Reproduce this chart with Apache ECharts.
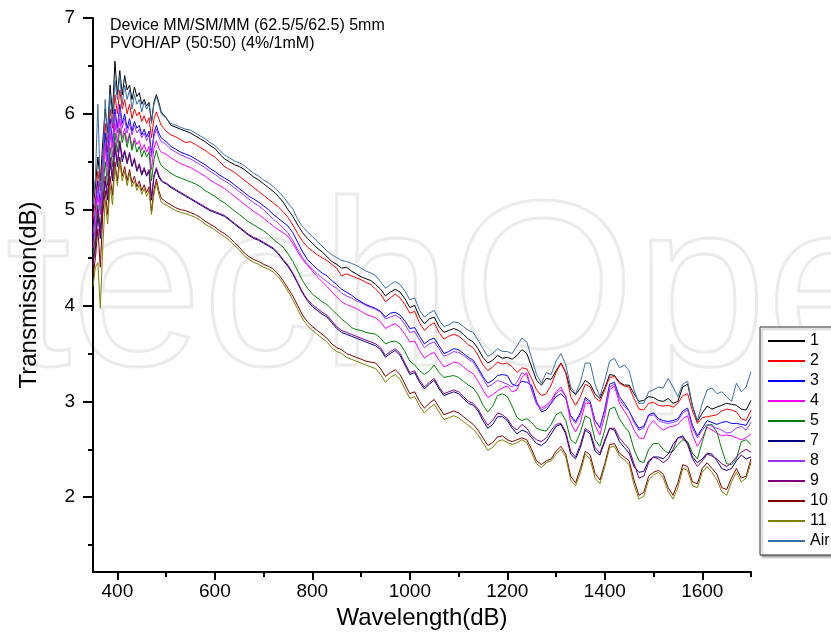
<!DOCTYPE html>
<html><head><meta charset="utf-8">
<script src="https://cdn.jsdelivr.net/npm/echarts@6/dist/echarts.min.js"></script>
<style>html,body{margin:0;padding:0;background:#fff}#c{width:831px;height:635px}</style>
</head><body><div id="c"></div>
<script>
const wavelength = [350,355,360,365,370,375,380,385,390,395,400,405,410,415,420,425,430,435,440,445,450,455,460,465,470,475,480,485,490,495,500,
510,520,530,540,550,560,570,580,590,600,610,620,630,640,650,660,670,680,690,700,
710,720,730,740,750,760,770,780,790,800,810,820,830,840,850,860,870,880,890,900,
910,920,930,940,950,960,970,980,990,1000,1010,1020,1030,1040,1050,1060,1070,1080,1090,1100,
1110,1120,1130,1140,1150,1160,1170,1180,1190,1200,1210,1220,1230,1240,1250,1260,1270,1280,1290,1300,
1310,1320,1330,1340,1350,1360,1370,1380,1390,1400,1410,1420,1430,1440,1450,1460,1470,1480,1490,1500,
1510,1520,1530,1540,1550,1560,1570,1580,1590,1600,1610,1620,1630,1640,1650,1660,1670,1680,1690,1700];

const s1 = [5.00,5.25,5.55,5.30,5.70,6.05,5.80,6.30,6.00,6.55,6.20,6.45,6.20,6.40,6.25,6.30,6.15,6.28,6.18,6.22,6.10,6.15,
6.08,6.12,5.92,6.12,6.20,6.12,6.02,5.99,5.96,
5.88,5.86,5.84,5.82,5.80,5.77,5.74,5.71,5.67,5.64,
5.58,5.53,5.50,5.47,5.45,5.42,5.38,5.34,5.31,5.27,
5.23,5.19,5.14,5.08,5.00,4.93,4.84,4.76,4.70,4.65,
4.60,4.56,4.51,4.46,4.43,4.39,4.40,4.36,4.33,4.30,
4.28,4.26,4.22,4.17,4.10,4.14,4.17,4.14,4.07,3.98,
4.00,3.88,3.81,3.86,3.88,3.78,3.72,3.74,3.76,3.74,
3.70,3.65,3.62,3.55,3.46,3.40,3.43,3.48,3.45,3.46,
3.44,3.48,3.54,3.50,3.36,3.22,3.17,3.24,3.23,3.32,
3.40,3.30,3.12,3.07,3.14,3.22,3.18,3.08,3.03,3.14,
3.28,3.27,3.20,3.17,3.17,3.08,3.00,3.01,3.05,3.04,
3.01,3.00,3.03,2.98,3.00,3.15,3.18,2.95,2.79,2.88,
2.95,2.92,2.94,2.96,2.98,2.97,2.96,2.92,2.91,3.01];

const s2 = [4.90,5.10,5.40,5.20,5.55,5.90,5.60,6.05,5.85,6.20,6.00,6.25,6.05,6.15,6.00,6.10,5.95,6.05,5.98,6.02,5.92,5.98,
5.90,5.96,5.75,5.95,6.02,5.95,5.88,5.85,5.82,
5.78,5.76,5.73,5.70,5.71,5.68,5.65,5.62,5.58,5.55,
5.50,5.45,5.42,5.39,5.35,5.31,5.27,5.23,5.19,5.15,
5.11,5.07,5.03,4.98,4.92,4.84,4.75,4.67,4.61,4.57,
4.53,4.50,4.47,4.43,4.39,4.31,4.33,4.31,4.29,4.27,
4.24,4.22,4.17,4.12,4.04,4.08,4.12,4.08,4.01,3.92,
3.94,3.82,3.74,3.79,3.82,3.72,3.65,3.68,3.70,3.68,
3.64,3.59,3.56,3.48,3.38,3.32,3.36,3.41,3.39,3.40,
3.36,3.30,3.35,3.34,3.24,3.12,3.06,3.08,3.17,3.30,
3.40,3.30,3.05,2.96,3.05,3.18,3.15,3.04,3.00,3.12,
3.25,3.26,3.19,3.16,3.15,3.03,2.92,2.91,2.98,2.99,
2.96,2.95,2.96,2.94,2.98,3.06,3.08,2.90,2.77,2.83,
2.84,2.85,2.86,2.90,2.92,2.91,2.89,2.82,2.80,2.91];

const s3 = [4.70,5.00,5.30,5.05,5.45,5.80,5.50,5.95,5.70,6.05,5.85,6.10,5.90,6.00,5.85,5.95,5.82,5.92,5.85,5.88,5.78,5.84,
5.76,5.82,5.58,5.80,5.88,5.80,5.75,5.73,5.71,
5.66,5.63,5.60,5.58,5.56,5.53,5.50,5.47,5.43,5.40,
5.36,5.33,5.30,5.26,5.22,5.18,5.14,5.11,5.08,5.04,
5.00,4.95,4.91,4.87,4.83,4.76,4.66,4.56,4.48,4.43,
4.38,4.34,4.31,4.26,4.22,4.17,4.14,4.11,4.07,4.04,
4.01,3.99,3.97,3.94,3.88,3.92,3.93,3.90,3.84,3.76,
3.77,3.68,3.60,3.64,3.66,3.58,3.50,3.52,3.55,3.54,
3.50,3.46,3.43,3.35,3.26,3.19,3.22,3.27,3.28,3.27,
3.18,3.16,3.21,3.20,3.17,3.00,2.89,2.91,2.98,3.05,
3.08,3.03,2.85,2.79,2.88,3.04,3.00,2.80,2.73,2.92,
3.18,3.20,3.05,2.98,2.90,2.80,2.72,2.74,2.86,2.88,
2.82,2.80,2.79,2.80,2.82,2.90,2.93,2.75,2.64,2.72,
2.80,2.78,2.76,2.78,2.79,2.77,2.77,2.76,2.75,2.84];

const s4 = [4.60,4.85,5.15,4.95,5.30,5.65,5.35,5.80,5.55,5.90,5.70,5.95,5.75,5.85,5.70,5.80,5.65,5.75,5.68,5.72,5.62,5.68,
5.60,5.66,5.42,5.64,5.72,5.64,5.60,5.59,5.58,
5.54,5.51,5.48,5.46,5.44,5.41,5.38,5.35,5.31,5.28,
5.25,5.22,5.18,5.14,5.10,5.06,5.02,4.98,4.95,4.91,
4.87,4.83,4.79,4.76,4.72,4.65,4.56,4.48,4.42,4.36,
4.30,4.25,4.20,4.14,4.09,4.04,4.01,3.99,3.97,3.94,
3.91,3.89,3.87,3.83,3.76,3.79,3.81,3.77,3.70,3.62,
3.63,3.53,3.45,3.49,3.51,3.43,3.36,3.38,3.41,3.40,
3.36,3.32,3.29,3.21,3.12,3.04,3.07,3.11,3.14,3.16,
3.10,3.12,3.25,3.30,3.12,2.98,2.93,2.96,3.01,3.10,
3.15,3.05,2.78,2.68,2.78,2.98,2.98,2.75,2.65,2.85,
3.12,3.16,2.98,2.90,2.82,2.70,2.62,2.61,2.74,2.80,
2.74,2.70,2.73,2.74,2.76,2.82,2.85,2.65,2.53,2.62,
2.73,2.70,2.67,2.64,2.65,2.64,2.62,2.60,2.62,2.66];

const s5 = [4.50,4.75,5.05,4.80,5.20,5.50,5.25,5.65,5.45,5.80,5.60,5.85,5.70,5.80,5.65,5.78,5.62,5.72,5.60,5.66,5.55,5.62,
5.55,5.60,5.30,5.52,5.62,5.52,5.46,5.44,5.42,
5.38,5.35,5.33,5.31,5.29,5.27,5.24,5.20,5.17,5.14,
5.10,5.07,5.03,4.99,4.95,4.91,4.87,4.84,4.81,4.78,
4.74,4.69,4.65,4.61,4.54,4.46,4.36,4.26,4.18,4.12,
4.08,4.04,4.01,3.96,3.91,3.86,3.82,3.77,3.75,3.74,
3.72,3.71,3.70,3.66,3.60,3.62,3.63,3.60,3.52,3.42,
3.38,3.32,3.28,3.32,3.38,3.30,3.25,3.26,3.27,3.25,
3.21,3.17,3.14,3.07,2.96,2.89,2.95,3.06,3.08,3.05,
2.95,2.83,2.80,2.82,2.78,2.72,2.70,2.69,2.76,2.86,
2.89,2.80,2.60,2.56,2.68,2.85,2.82,2.60,2.53,2.70,
2.92,2.94,2.82,2.74,2.68,2.50,2.38,2.36,2.50,2.56,
2.56,2.50,2.46,2.48,2.55,2.60,2.58,2.46,2.40,2.58,
2.75,2.76,2.68,2.50,2.35,2.34,2.40,2.58,2.60,2.55];

const s7 = [4.45,4.60,4.95,4.70,5.05,5.30,5.10,5.50,5.30,5.65,5.45,5.70,5.50,5.60,5.48,5.58,5.45,5.52,5.40,5.46,5.36,5.42,
5.35,5.40,5.10,5.34,5.42,5.34,5.30,5.28,5.27,
5.23,5.20,5.17,5.14,5.11,5.08,5.05,5.02,4.99,4.97,
4.95,4.93,4.89,4.85,4.81,4.77,4.73,4.70,4.68,4.65,
4.62,4.59,4.54,4.47,4.41,4.33,4.23,4.13,4.05,3.99,
3.95,3.91,3.88,3.82,3.76,3.72,3.70,3.68,3.66,3.64,
3.62,3.60,3.58,3.54,3.46,3.50,3.53,3.48,3.38,3.28,
3.30,3.20,3.13,3.18,3.22,3.13,3.06,3.08,3.10,3.08,
3.03,2.98,2.96,2.90,2.80,2.72,2.76,2.84,2.84,2.80,
2.72,2.66,2.70,2.68,2.62,2.56,2.54,2.58,2.66,2.74,
2.76,2.66,2.45,2.40,2.52,2.70,2.66,2.48,2.44,2.58,
2.72,2.70,2.58,2.52,2.46,2.32,2.26,2.27,2.38,2.42,
2.42,2.40,2.45,2.55,2.62,2.64,2.56,2.42,2.36,2.40,
2.46,2.45,2.38,2.30,2.28,2.30,2.38,2.44,2.40,2.42];

const s8 = [4.75,4.95,5.25,5.00,5.50,5.70,5.45,5.90,5.65,6.00,5.80,6.05,5.85,5.95,5.80,5.90,5.78,5.88,5.80,5.84,5.75,5.80,
5.72,5.78,5.55,5.76,5.84,5.76,5.71,5.70,5.68,
5.63,5.60,5.57,5.55,5.53,5.50,5.47,5.44,5.40,5.37,
5.33,5.30,5.27,5.23,5.19,5.15,5.11,5.07,5.04,5.00,
4.95,4.90,4.86,4.81,4.76,4.68,4.58,4.50,4.43,4.38,
4.33,4.29,4.25,4.21,4.18,4.13,4.10,4.08,4.05,4.03,
4.00,3.98,3.96,3.93,3.86,3.88,3.90,3.87,3.80,3.72,
3.73,3.64,3.56,3.60,3.62,3.55,3.47,3.49,3.52,3.51,
3.48,3.44,3.41,3.33,3.24,3.15,3.18,3.22,3.20,3.18,
3.15,3.20,3.30,3.27,3.12,2.97,2.91,2.94,2.99,3.08,
3.12,3.05,2.84,2.77,2.86,3.02,2.98,2.80,2.72,2.90,
3.15,3.18,3.02,2.95,2.90,2.78,2.70,2.72,2.85,2.86,
2.80,2.78,2.77,2.78,2.80,2.88,2.91,2.72,2.62,2.70,
2.76,2.74,2.72,2.70,2.67,2.68,2.72,2.74,2.70,2.78];

const s9 = [4.40,4.65,5.00,4.75,5.10,5.35,5.15,5.55,5.35,5.70,5.50,5.72,5.55,5.62,5.50,5.60,5.46,5.54,5.42,5.48,5.38,5.44,
5.36,5.42,5.12,5.36,5.44,5.36,5.31,5.29,5.28,
5.24,5.21,5.18,5.15,5.12,5.09,5.06,5.03,5.00,4.98,
4.96,4.94,4.90,4.86,4.82,4.78,4.74,4.71,4.69,4.66,
4.63,4.60,4.55,4.48,4.42,4.34,4.24,4.14,4.06,4.01,
3.97,3.93,3.90,3.84,3.78,3.74,3.72,3.70,3.68,3.66,
3.64,3.62,3.60,3.56,3.48,3.52,3.55,3.50,3.40,3.30,
3.32,3.22,3.15,3.20,3.24,3.15,3.08,3.10,3.12,3.10,
3.05,3.00,2.98,2.92,2.83,2.75,2.80,2.88,2.86,2.82,
2.74,2.70,2.76,2.72,2.64,2.60,2.58,2.62,2.70,2.76,
2.77,2.68,2.48,2.42,2.55,2.72,2.68,2.52,2.46,2.60,
2.72,2.72,2.62,2.56,2.50,2.35,2.20,2.22,2.36,2.42,
2.40,2.36,2.40,2.50,2.62,2.62,2.55,2.40,2.32,2.38,
2.45,2.43,2.40,2.35,2.32,2.36,2.42,2.47,2.50,2.47];

const s10 = [4.30,4.50,4.80,4.40,4.95,5.20,4.95,5.35,5.15,5.50,5.30,5.55,5.35,5.45,5.30,5.42,5.28,5.35,5.24,5.30,5.20,5.26,
5.18,5.24,4.98,5.20,5.32,5.20,5.12,5.10,5.08,
5.05,5.02,5.00,4.99,4.97,4.95,4.92,4.88,4.85,4.82,
4.78,4.75,4.71,4.66,4.61,4.55,4.51,4.48,4.46,4.43,
4.41,4.38,4.33,4.26,4.18,4.10,4.00,3.90,3.83,3.78,
3.74,3.70,3.66,3.60,3.56,3.54,3.50,3.48,3.46,3.44,
3.42,3.41,3.40,3.34,3.26,3.30,3.33,3.28,3.18,3.08,
3.10,3.00,2.93,2.98,3.02,2.94,2.86,2.88,2.90,2.88,
2.84,2.80,2.76,2.70,2.62,2.54,2.57,2.63,2.64,2.60,
2.58,2.60,2.62,2.60,2.50,2.38,2.34,2.38,2.40,2.48,
2.53,2.45,2.22,2.15,2.30,2.48,2.44,2.25,2.18,2.35,
2.55,2.56,2.46,2.42,2.38,2.18,2.02,2.05,2.22,2.26,
2.28,2.24,2.10,2.02,2.15,2.34,2.32,2.16,2.14,2.30,
2.36,2.30,2.24,2.10,2.08,2.20,2.30,2.20,2.22,2.40];

const s11 = [4.20,4.40,4.45,3.97,4.60,5.10,4.85,5.25,5.05,5.45,5.25,5.50,5.30,5.40,5.25,5.38,5.24,5.30,5.20,5.26,5.16,5.22,
5.14,5.20,4.95,5.16,5.28,5.16,5.08,5.06,5.05,
5.02,4.99,4.97,4.96,4.94,4.92,4.89,4.85,4.82,4.79,
4.75,4.72,4.68,4.63,4.58,4.52,4.48,4.45,4.43,4.40,
4.38,4.35,4.30,4.23,4.15,4.06,3.96,3.86,3.79,3.74,
3.70,3.66,3.62,3.56,3.52,3.50,3.46,3.44,3.42,3.40,
3.38,3.36,3.34,3.28,3.20,3.25,3.28,3.23,3.13,3.03,
3.05,2.95,2.88,2.93,2.97,2.89,2.81,2.83,2.85,2.83,
2.79,2.75,2.71,2.65,2.57,2.49,2.52,2.58,2.60,2.57,
2.55,2.57,2.60,2.57,2.46,2.35,2.31,2.36,2.38,2.45,
2.50,2.42,2.18,2.12,2.26,2.45,2.40,2.20,2.14,2.32,
2.52,2.53,2.43,2.39,2.34,2.13,1.98,2.01,2.18,2.23,
2.26,2.20,2.06,1.98,2.10,2.30,2.28,2.12,2.10,2.26,
2.32,2.26,2.18,2.06,2.02,2.16,2.26,2.16,2.20,2.36];

const sAir = [5.05,5.35,6.10,5.20,5.45,6.15,5.70,6.20,5.90,6.35,6.15,6.40,6.10,6.30,6.15,6.25,6.05,6.20,6.10,6.15,6.02,6.12,
6.05,6.10,5.90,6.10,6.18,6.10,6.00,5.98,5.95,
5.90,5.88,5.86,5.84,5.83,5.80,5.77,5.74,5.70,5.67,
5.62,5.57,5.54,5.51,5.49,5.46,5.42,5.38,5.35,5.31,
5.28,5.24,5.19,5.14,5.07,5.01,4.90,4.82,4.77,4.72,
4.67,4.62,4.57,4.53,4.50,4.47,4.46,4.44,4.42,4.39,
4.36,4.34,4.31,4.25,4.18,4.22,4.25,4.22,4.15,4.06,
4.08,3.95,3.88,3.92,3.95,3.85,3.78,3.80,3.83,3.82,
3.78,3.74,3.72,3.64,3.55,3.47,3.50,3.55,3.52,3.52,
3.50,3.58,3.66,3.62,3.45,3.28,3.19,3.30,3.28,3.42,
3.50,3.38,3.15,3.08,3.20,3.40,3.40,3.18,3.05,3.22,
3.42,3.45,3.35,3.38,3.32,3.12,2.98,2.98,3.10,3.12,
3.15,3.14,3.24,3.15,3.05,3.18,3.21,2.95,2.80,2.98,
3.12,3.14,3.08,3.10,3.05,3.00,3.19,3.10,3.15,3.31];

const seriesNames = ['1','2','3','4','5','7','8','9','10','11','Air'];
const seriesValues = [s1,s2,s3,s4,s5,s7,s8,s9,s10,s11,sAir];
const seriesColors = ['#000000','#ff0000','#0000ff','#ff00ff','#008000','#000080','#9933ff','#800080','#800000','#808000','#3a6ea8'];

const xMajor = [400,600,800,1000,1200,1400,1600];
const xMinor = [500,700,900,1100,1300,1500,1700];
const yMajor = [2,3,4,5,6,7];
const yMinor = [1.5,2.5,3.5,4.5,5.5,6.5];
const titleLines = ['Device MM/SM/MM (62.5/5/62.5) 5mm','PVOH/AP (50:50) (4%/1mM)'];

const FONT = 'Liberation Sans, Arial, sans-serif';
const chart = echarts.init(document.getElementById('c'), null, {renderer:'canvas'});
const XMIN = 350, XMAX = 1700, YMIN = 1.22, YMAX = 7;

chart.setOption({
  animation:false,
  backgroundColor:'#fff',
  graphic:[{
    type:'text', left:4, top:180, z:-10, silent:true,
    style:{text:'techOpen', font:'236px Liberation Sans, Arial, sans-serif', fill:'rgba(255,255,255,0)', stroke:'#ebebeb', lineWidth:3}
  },{
    type:'text', left:110, top:17, z:10,
    style:{text:titleLines.join('\n'), font:'16px '+FONT, fill:'#000', lineHeight:18}
  }],
  grid:{left:93, right:80, top:18, bottom:63, containLabel:false},
  legend:{
    orient:'vertical', left:760, top:327, itemWidth:37, itemHeight:2, itemGap:4, icon:'rect',
    data:seriesNames, backgroundColor:'#fff', borderColor:'#333', borderWidth:1,
    padding:[6,30,6,8], shadowColor:'rgba(0,0,0,0.35)', shadowOffsetX:2, shadowOffsetY:2, shadowBlur:2,
    textStyle:{fontSize:16, fontFamily:FONT, color:'#000'}
  },
  xAxis:[{
    type:'value', min:XMIN, max:XMAX, name:'Wavelength(dB)', nameLocation:'middle', nameGap:27,
    nameTextStyle:{fontSize:24, fontFamily:FONT, color:'#000'},
    axisLine:{lineStyle:{color:'#000', width:2}},
    axisTick:{customValues:xMajor, length:8, lineStyle:{color:'#000', width:2}},
    axisLabel:{customValues:xMajor, fontSize:19, fontFamily:FONT, color:'#000', margin:10, formatter:v=>String(v)},
    splitLine:{show:false}
  },{
    type:'value', min:XMIN, max:XMAX, position:'bottom', gridIndex:0,
    axisLine:{show:false},
    axisTick:{customValues:xMinor, length:5, lineStyle:{color:'#000', width:2}},
    axisLabel:{show:false}, splitLine:{show:false}
  }],
  yAxis:[{
    type:'value', min:YMIN, max:YMAX, name:'Transmission(dB)', nameLocation:'middle', nameGap:52,
    nameTextStyle:{fontSize:24, fontFamily:FONT, color:'#000'},
    axisLine:{show:true, lineStyle:{color:'#000', width:2}},
    axisTick:{show:true, customValues:yMajor, length:10, lineStyle:{color:'#000', width:2}},
    axisLabel:{customValues:yMajor, fontSize:19, fontFamily:FONT, color:'#000', margin:18, formatter:v=>String(v)},
    splitLine:{show:false}
  },{
    type:'value', min:YMIN, max:YMAX, position:'left', gridIndex:0,
    axisLine:{show:false},
    axisTick:{show:true, customValues:yMinor, length:5, lineStyle:{color:'#000', width:2}},
    axisLabel:{show:false}, splitLine:{show:false}
  }],
  series: seriesNames.map((n,k)=>({
    name:n, type:'line', symbol:'none', xAxisIndex:0, yAxisIndex:0,
    color:seriesColors[k], lineStyle:{width:1, color:seriesColors[k]},
    data: wavelength.map((w,i)=>[w, seriesValues[k][i]])
  }))
});
</script></body></html>
